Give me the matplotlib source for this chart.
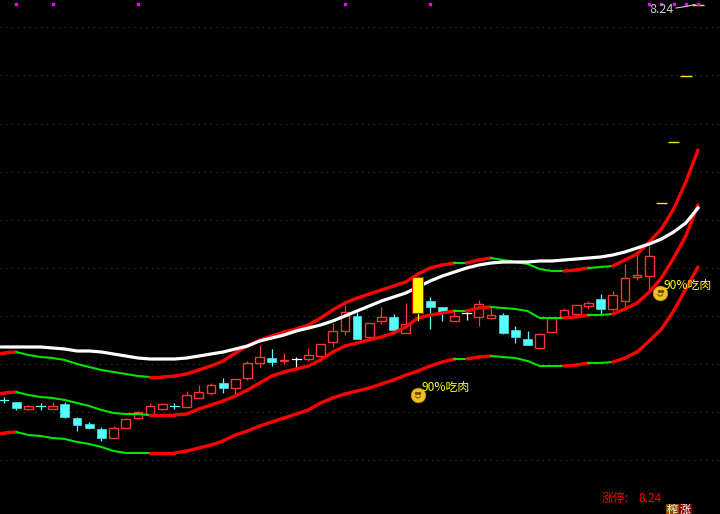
import matplotlib
matplotlib.use('Agg')
import matplotlib.pyplot as plt
from matplotlib.patches import Rectangle

plt.rcParams['font.family'] = ['Noto Sans CJK SC', 'DejaVu Sans']

W, H = 720, 514

# candles, values read in screen rows of the picture
body_top = [400, 402, 406, 406, 406, 404, 418, 424, 429, 428, 419, 412, 406, 404, 406, 395, 392, 385, 383, 379,
            363, 357, 358, 359.5, 359, 355, 344, 331, 312, 316, 323, 317, 317, 324, 277, 301, 307, 316, 313, 304,
            315, 315, 330, 339, 334, 318, 310, 305, 303, 299, 295, 278, 275, 256]
body_bot = [400, 408, 408.7, 406, 408.7, 417, 425, 428, 438, 438, 428, 418, 415, 409, 406, 407, 398, 393, 388, 388,
            378, 363, 362, 360.5, 359, 359, 356, 342, 331, 339, 337, 321, 330, 333, 313, 307, 312, 321, 313, 317,
            318, 333, 337, 345, 348, 332, 317, 314, 306, 309, 309, 301, 277, 276]
highs = [397, 402, 405, 403, 402, 402, 417, 422, 427, 426, 418, 411, 403, 404, 403, 391, 385, 383, 378, 379,
         361, 345, 349, 353, 357, 348, 344, 323, 305, 312, 323, 307, 314, 303, 277, 297, 307, 311, 311, 300,
         308, 313, 326, 331, 333, 318, 308, 305, 301, 294, 291, 264, 255, 246]
lows = [403, 410, 410, 410, 409, 418, 431, 429, 441, 438, 428, 419, 415, 410, 409, 407, 398, 395, 393, 394,
        380, 367, 366, 364, 369, 361, 359, 347, 335, 339, 339, 324, 331, 333, 320, 329, 321, 321, 320, 326,
        319, 334, 343, 345, 348, 332, 317, 316, 309, 314, 311, 307, 280, 291]
kinds = 'ccrcrccccrrrrrcrrrcrrrcrwrrrrcrrcrycc' + 'rwrrcccrrrrrcrrrr'

# bands, one value per bar from bar -1 to bar 57
upper = [353, 353, 352, 355, 357, 358, 360, 364, 367, 370, 372, 374, 376, 377, 377, 376, 374, 370, 366,
         361, 353, 346, 340, 336, 332, 329, 325, 318, 310, 303, 298, 294, 290, 286, 282, 274, 268, 265, 263,
         263, 260, 258, 260, 262, 264, 269, 271, 271, 270, 268, 267, 266, 260, 254, 242, 229, 209, 182, 150]
white = [347, 347, 347, 347, 347, 348, 349, 351, 351, 352, 354, 356, 358, 359, 359, 359, 358, 356, 354, 352,
         349, 346, 341, 338, 335, 331, 328, 325, 321, 316, 311, 306, 301, 297, 293, 287, 281, 276, 272, 268,
         265, 263, 262, 262, 262, 261, 261, 260, 259, 258, 257, 255, 252, 248, 244, 239, 232, 223, 208]
middle = [393, 393, 392, 395, 397, 398, 400, 403, 406, 410, 413, 414, 414, 415, 415, 415, 414, 409, 405, 401,
          396, 390, 383, 376, 372, 369, 366, 360, 352, 346, 343, 340, 337, 333, 327, 318, 315, 313, 311, 311,
          308, 307, 308, 309, 311, 318, 318, 318, 317, 315, 315, 314, 309, 303, 292, 278, 258, 236, 205]
lower = [433, 433, 432, 435, 436, 438, 439, 442, 444, 447, 451, 453, 453, 453, 453, 453, 451, 448, 445, 441,
         435, 431, 426, 422, 418, 414, 410, 403, 398, 394, 391, 388, 384, 380, 375, 371, 366, 362, 359, 359,
         357, 356, 357, 358, 361, 366, 366, 366, 365, 363, 363, 362, 358, 352, 341, 329, 311, 289, 267]
green_segments = list(range(1, 12)) + [37] + list(range(40, 46)) + [48, 49]

grid_rows = [27, 75, 124, 172, 220, 268, 316, 364, 412, 460]
dash_rows = [4.5, 76, 142, 203]
dash_bars = [57, 56, 55, 54]
magenta_bars = [1, 4, 11, 28, 35, 53, 54, 55, 56, 57]
smile_spots = [(34, 395), (53.9, 293)]
BAR0, STEP = 4, 12.175

colors = {'c': '#55ffff', 'r': '#ff3333', 'w': 'white'}

fig = plt.figure(figsize=(W / 100, H / 100), dpi=100, facecolor='black')
ax = fig.add_axes([0, 0, 1, 1], facecolor='black')
ax.set_xlim((0 - BAR0) / STEP, (W - BAR0) / STEP)
ax.set_ylim(H, 0)
ax.axis('off')

for r in grid_rows:
    ax.axhline(r, color='#4a4a4a', lw=0.7, ls=(0, (1, 5)), zorder=1)

# candles
for i, k in enumerate(kinds):
    if k == 'y':
        continue
    top, bottom = body_top[i], body_bot[i]
    col = colors[k]
    ax.plot([i, i], [highs[i], top], color=col, lw=0.9, zorder=2, solid_capstyle='butt')
    ax.plot([i, i], [bottom, lows[i]], color=col, lw=0.9, zorder=2, solid_capstyle='butt')
    if bottom == top:
        ax.plot([i - 0.36, i + 0.36], [top, top], color=col, lw=0.9, zorder=2)
    elif k == 'c':
        ax.add_patch(Rectangle((i - 0.36, top), 0.72, bottom - top, fc=col, ec=col, lw=0.4, zorder=2))
    else:
        ax.add_patch(Rectangle((i - 0.36, top), 0.72, bottom - top, fc='none', ec=col, lw=1.0, zorder=2))

# bands
for band in (upper, middle, lower):
    for j in range(len(band) - 1):
        seg = j - 1
        green = seg in green_segments
        ax.plot([seg, seg + 1], [band[j], band[j + 1]], color='#00e400' if green else '#ff0000',
                lw=1.5 if green else 2.4, solid_capstyle='round', zorder=3)
ax.plot(range(-1, len(white) - 1), white, color='white', lw=2.3, zorder=3)

# big yellow bar goes over the lines
y = kinds.index('y')
ax.plot([y, y], [body_bot[y], lows[y]], color='#ffff00', lw=0.9, zorder=4)
ax.add_patch(Rectangle((y - 0.45, body_top[y]), 0.9, body_bot[y] - body_top[y], fc='#ffff00', ec='#ff0000',
                       lw=0.8, zorder=4))

for b, r in zip(dash_bars, dash_rows):
    ax.plot([b - 0.48, b + 0.48], [r, r], color='#ffe000', lw=1.0, zorder=4, solid_capstyle='butt')
ax.plot(magenta_bars, [3.5] * len(magenta_bars), ls='none', marker='s', ms=1.6, color='#ff00ff', zorder=4)
ax.plot([55.2, 56.0, 56.75], [8, 6.5, 4.5], color='#c8c8c8', lw=0.8, zorder=4)

for b, r in smile_spots:
    ax.plot([b], [r], marker='o', ms=10.5, mfc='#f0c020', mec='#c09010', mew=0.5, zorder=5)
    ax.plot([b - 0.12, b + 0.12], [r - 2, r - 2], ls='none', marker='o', ms=1.4, color='#6b4a00', zorder=6)
    ax.plot([b - 0.2, b - 0.08, b + 0.08, b + 0.2], [r + 1.5, r + 3, r + 3, r + 1.5], color='#6b4a00', lw=0.7,
            zorder=6)
    ax.text(b + 0.28, r - 8, '90%吃肉', color='#ffff00', fontsize=8.6, va='center', ha='left', zorder=6)

ax.text(53.0, 9.5, '8.24', color='#c8c8c8', fontsize=9, va='center', ha='left', zorder=6)
ax.text(49.1, 498, '涨停:', color='#ff0000', fontsize=8.6, va='center', ha='left', zorder=6)
ax.text(52.15, 498, '8.24', color='#ff0000', fontsize=8.6, va='center', ha='left', zorder=6)
ax.text(54.45, 510, '榨', color='white', fontsize=8, va='center', ha='left', zorder=6,
        bbox=dict(fc='#8a4a00', ec='none', pad=0.6))
ax.text(55.5, 510, '涨', color='white', fontsize=8, va='center', ha='left', zorder=6,
        bbox=dict(fc='#800000', ec='none', pad=0.6))

fig.savefig('out.png', dpi=100, facecolor='black')
